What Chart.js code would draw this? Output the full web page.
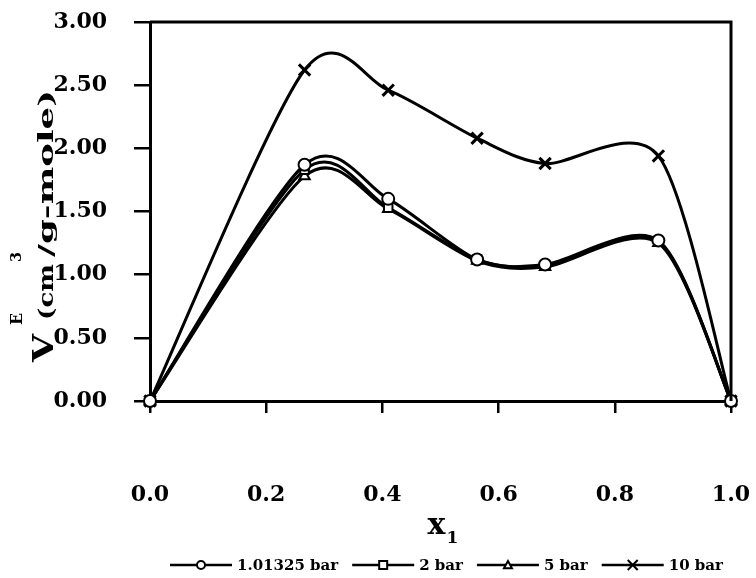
<!DOCTYPE html>
<html><head><meta charset="utf-8">
<script src="https://cdn.jsdelivr.net/npm/chart.js@4/dist/chart.umd.min.js"></script>
<style>html,body{margin:0;padding:0;background:#fff}#wrap{width:756px;height:578px}</style>
</head><body><div id="wrap"><canvas id="c" width="756" height="578"></canvas></div>
<script>
// ---- data ----
const xValues = [0, 0.266, 0.410, 0.563, 0.680, 0.875, 1.0];
const seriesNames = ['1.01325 bar', '2 bar', '5 bar', '10 bar'];
const v1013 = [0, 1.87, 1.60, 1.12, 1.08, 1.27, 0];
const v2bar = [0, 1.83, 1.53, 1.12, 1.07, 1.26, 0];
const v5bar = [0, 1.78, 1.52, 1.11, 1.06, 1.25, 0];
const v10bar = [0, 2.62, 2.46, 2.08, 1.88, 1.94, 0];
const xTicks = [0, 0.2, 0.4, 0.6, 0.8, 1.0];
const yTicks = [0, 0.5, 1.0, 1.5, 2.0, 2.5, 3.0];

const SERIF = "'DejaVu Serif', 'Liberation Serif', serif";
const styles = ['circle', 'rect', 'triangle', 'crossRot'];
const allSeries = [v1013, v2bar, v5bar, v10bar];

function drawMarker(ctx, style, x, y, r) {
  ctx.beginPath();
  if (style === 'circle') { ctx.arc(x, y, r, 0, Math.PI * 2); ctx.fill(); ctx.stroke(); }
  else if (style === 'rect') { ctx.rect(x - r, y - r, 2 * r, 2 * r); ctx.fill(); ctx.stroke(); }
  else if (style === 'triangle') {
    ctx.moveTo(x, y - r); ctx.lineTo(x + r, y + r * 0.8); ctx.lineTo(x - r, y + r * 0.8); ctx.closePath();
    ctx.fill(); ctx.stroke();
  } else {
    ctx.moveTo(x - r, y - r); ctx.lineTo(x + r, y + r);
    ctx.moveTo(x + r, y - r); ctx.lineTo(x - r, y + r); ctx.stroke();
  }
}

const datasets = allSeries.map((vals, i) => ({
  label: seriesNames[i],
  data: xValues.map((x, j) => ({ x: x, y: vals[j] })),
  borderColor: '#000',
  borderWidth: 3,
  tension: 0.4,
  fill: false,
  clip: false,
  pointStyle: styles[i],
  pointRadius: styles[i] === 'crossRot' ? 8 : 6,
  pointBackgroundColor: '#fff',
  pointBorderColor: '#000',
  pointBorderWidth: styles[i] === 'crossRot' ? 3 : 2
}));

// Spreadsheet-style (Catmull-Rom like) smoothing applied to the library's own point elements
const SMOOTH = 1 / 7;
const smoothing = {
  id: 'smoothing',
  beforeDatasetsDraw(chart) {
    chart.data.datasets.forEach((ds, i) => {
      const meta = chart.getDatasetMeta(i);
      const line = meta.dataset;
      if (!line || typeof line.updateControlPoints !== 'function') return;
      line.updateControlPoints(chart.chartArea, meta.iScale ? meta.iScale.axis : 'x');
      const pts = meta.data;
      for (let k = 0; k < pts.length; k++) {
        const p = pts[k], prev = pts[Math.max(k - 1, 0)], next = pts[Math.min(k + 1, pts.length - 1)];
        const dx = (next.x - prev.x) * SMOOTH, dy = (next.y - prev.y) * SMOOTH;
        p.cp1x = p.x - dx; p.cp1y = p.y - dy;
        p.cp2x = p.x + dx; p.cp2y = p.y + dy;
      }
    });
  }
};

const extras = {
  id: 'extras',
  afterDraw(chart) {
    const ctx = chart.ctx, a = chart.chartArea;
    ctx.save();
    // frame: top and right sides
    ctx.strokeStyle = '#000'; ctx.lineWidth = 3;
    ctx.beginPath(); ctx.moveTo(a.left, a.top); ctx.lineTo(a.right, a.top); ctx.lineTo(a.right, a.bottom); ctx.stroke();
    ctx.fillStyle = '#000';
    ctx.textBaseline = 'alphabetic'; ctx.textAlign = 'left';
    // x-axis title: x with subscript 1
    const cx = (a.left + a.right) / 2;
    ctx.font = 'bold 30px ' + SERIF;
    const wx = ctx.measureText('x').width;
    ctx.fillText('x', cx - 13, 534);
    ctx.font = 'bold 17px ' + SERIF;
    ctx.fillText('1', cx - 13 + wx + 1, 543);

    // legend (line + marker + label), laid out left to right
    let lx = 170; const ly = 565;
    ctx.font = 'bold 15px ' + SERIF;
    ctx.textBaseline = 'middle';
    chart.data.datasets.forEach((ds) => {
      ctx.strokeStyle = '#000'; ctx.lineWidth = 2.5;
      ctx.beginPath(); ctx.moveTo(lx, ly); ctx.lineTo(lx + 62, ly); ctx.stroke();
      ctx.fillStyle = '#fff'; ctx.lineWidth = 2;
      drawMarker(ctx, ds.pointStyle, lx + 31, ly, ds.pointStyle === 'crossRot' ? 5 : 4);
      ctx.fillStyle = '#000';
      ctx.fillText(ds.label, lx + 67, ly + 1);
      lx += 67 + ctx.measureText(ds.label).width + 14;
    });

    // y-axis title, rotated (reads bottom to top)
    ctx.textBaseline = 'alphabetic';
    ctx.translate(53, 0);
    ctx.rotate(-Math.PI / 2);
    function seg(text, size, yBottom, yTop, v) {
      ctx.font = 'bold ' + size + 'px ' + SERIF;
      const w = ctx.measureText(text).width;
      ctx.save(); ctx.translate(-yBottom, v); ctx.scale((yBottom - yTop) / w, 1); ctx.fillText(text, 0, 0); ctx.restore();
    }
    seg('V', 28, 362, 334, 0);
    seg('E', 16, 325, 313, -31);
    seg('(cm', 21, 320, 264, 0);
    seg('3', 15, 262, 252, -32);
    seg('/g-mole)', 21, 257, 90, 0);
    ctx.restore();
  }
};

function noPad(s) { s.paddingTop = 0; s.paddingBottom = 0; s.paddingLeft = 0; s.paddingRight = 0; }

new Chart(document.getElementById('c'), {
  type: 'line',
  data: { datasets: datasets },
  options: {
    responsive: false,
    animation: false,
    layout: { padding: { left: 0, right: 25, top: 22, bottom: 0 } },
    scales: {
      x: {
        type: 'linear', min: 0, max: 1,
        afterBuildTicks: s => { s.ticks = xTicks.map(v => ({ value: v })); },
        afterFit: s => { s.height = 177; noPad(s); },
        ticks: { callback: v => Number(v).toFixed(1), color: '#000', padding: 69, maxRotation: 0,
                 font: { family: SERIF, weight: 'bold', size: 22 } },
        grid: { drawOnChartArea: false, drawTicks: true, tickLength: 12, color: '#000', tickColor: '#000', lineWidth: 2.5 },
        border: { display: true, color: '#000', width: 3 }
      },
      y: {
        min: 0, max: 3,
        afterBuildTicks: s => { s.ticks = yTicks.map(v => ({ value: v })); },
        afterFit: s => { s.width = 150; noPad(s); },
        ticks: { callback: v => Number(v).toFixed(2), color: '#000', padding: 27,
                 font: { family: SERIF, weight: 'bold', size: 22 } },
        grid: { drawOnChartArea: false, drawTicks: true, tickLength: 16, color: '#000', tickColor: '#000', lineWidth: 2.5 },
        border: { display: true, color: '#000', width: 3 }
      }
    },
    plugins: {
      tooltip: { enabled: false },
      legend: { display: false }
    }
  },
  plugins: [smoothing, extras]
});
</script></body></html>
